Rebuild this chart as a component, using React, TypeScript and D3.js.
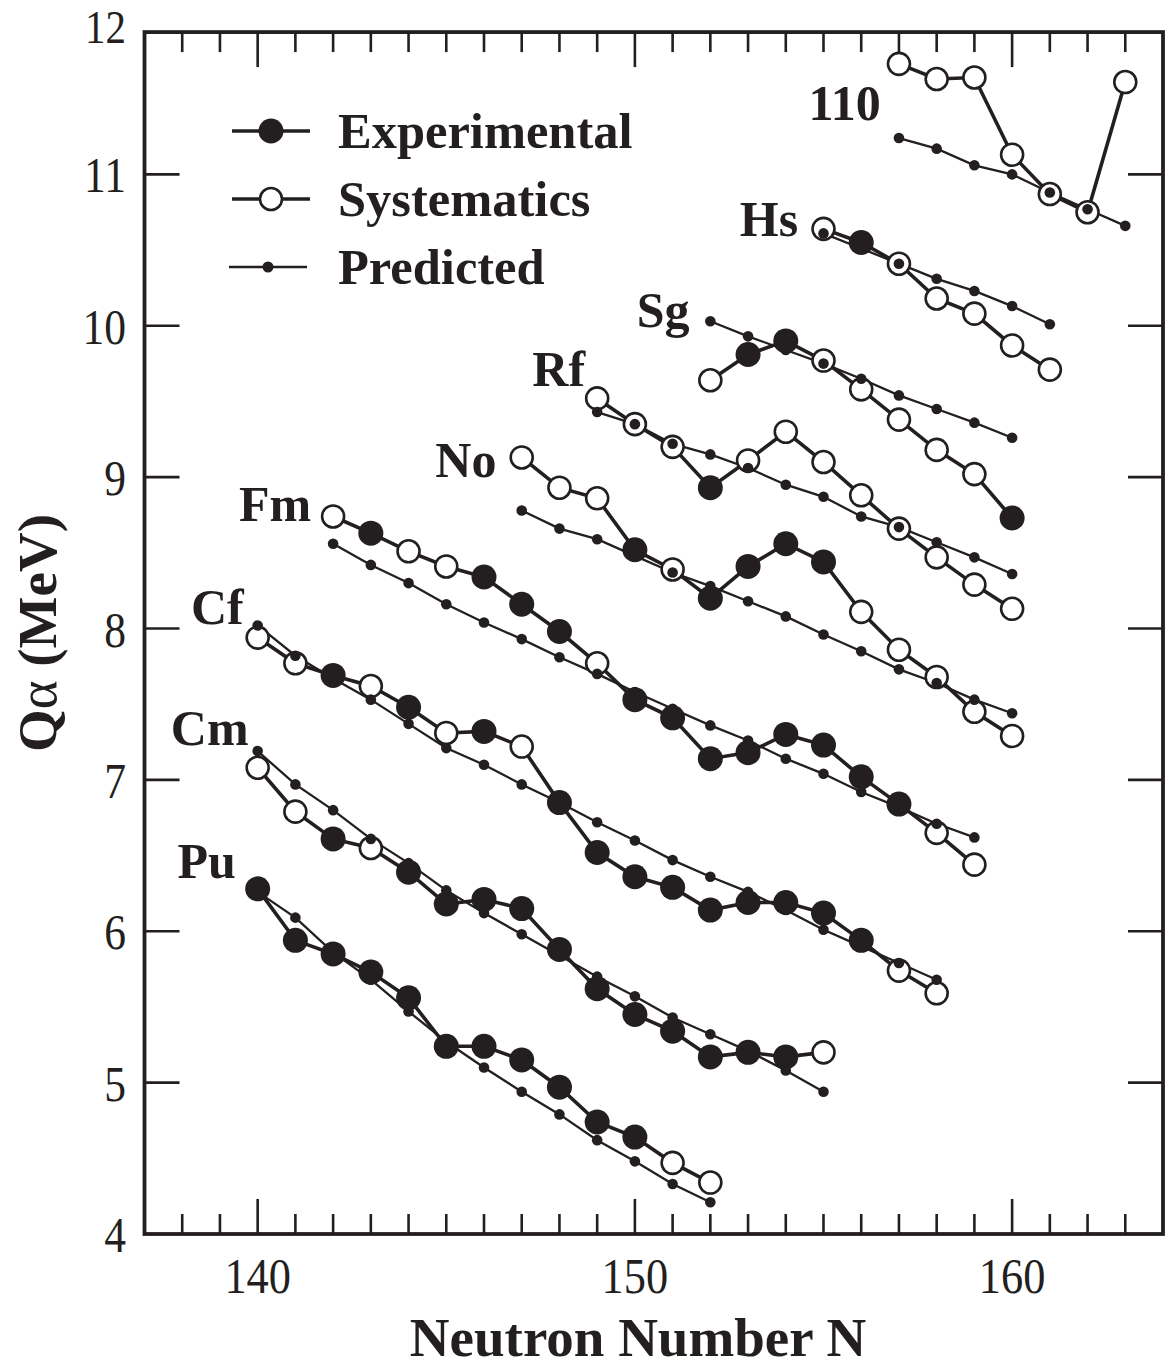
import React from "react";
import * as d3 from "d3";

// Q-alpha values (MeV) per element.
// kind: e = experimental (filled), s = systematics (open)
const PU_START = 140;
const PU_Q = [6.28, 5.94, 5.85, 5.73, 5.56, 5.24, 5.24, 5.15, 4.97, 4.74, 4.64, 4.47, 4.34];
const PU_KIND = "eeeeeeeeeeess";
const PU_PRED = [6.26, 6.09, 5.86, 5.68, 5.47, 5.27, 5.1, 4.94, 4.79, 4.62, 4.48, 4.33, 4.21];

const CM_START = 140;
const CM_Q = [7.08, 6.79, 6.61, 6.55, 6.39, 6.18, 6.21, 6.15, 5.88, 5.62, 5.45, 5.34, 5.17, 5.2, 5.17, 5.2];
const CM_KIND = "sseseeeeeeeeeees";
const CM_PRED = [7.19, 6.97, 6.8, 6.61, 6.45, 6.27, 6.12, 5.98, 5.84, 5.7, 5.57, 5.43, 5.32, 5.21, 5.08, 4.94];

const CF_START = 140;
const CF_Q = [7.94, 7.77, 7.69, 7.62, 7.48, 7.31, 7.32, 7.22, 6.85, 6.52, 6.36, 6.29, 6.14, 6.19, 6.19, 6.12, 5.94, 5.74, 5.59];
const CF_KIND = "sseseseseeeeeeeeess";
const CF_PRED = [8.02, 7.82, 7.67, 7.53, 7.37, 7.21, 7.1, 6.97, 6.85, 6.72, 6.6, 6.47, 6.36, 6.26, 6.14, 6.01, 5.9, 5.79, 5.68];

const FM_START = 142;
const FM_Q = [8.74, 8.63, 8.51, 8.41, 8.34, 8.16, 7.98, 7.77, 7.53, 7.41, 7.14, 7.18, 7.3, 7.23, 7.02, 6.84, 6.65, 6.44];
const FM_KIND = "sesseeeseeeeeeeess";
const FM_PRED = [8.56, 8.42, 8.3, 8.16, 8.04, 7.93, 7.81, 7.7, 7.58, 7.47, 7.36, 7.26, 7.14, 7.04, 6.92, 6.82, 6.71, 6.62];

const NO_START = 147;
const NO_Q = [9.13, 8.93, 8.86, 8.52, 8.39, 8.2, 8.41, 8.56, 8.44, 8.11, 7.86, 7.68, 7.45, 7.29];
const NO_KIND = "ssseseeeesssss";
const NO_PRED = [8.78, 8.66, 8.59, 8.48, 8.37, 8.28, 8.18, 8.08, 7.96, 7.85, 7.73, 7.64, 7.53, 7.44];

const RF_START = 149;
const RF_Q = [9.52, 9.35, 9.2, 8.93, 9.11, 9.3, 9.1, 8.88, 8.66, 8.47, 8.29, 8.13];
const RF_KIND = "sssessssssss";
const RF_PRED = [9.43, 9.35, 9.22, 9.15, 9.06, 8.95, 8.87, 8.74, 8.67, 8.57, 8.47, 8.36];

const SG_START = 152;
const SG_Q = [9.64, 9.81, 9.9, 9.77, 9.58, 9.38, 9.18, 9.02, 8.73];
const SG_KIND = "seessssse";
const SG_PRED = [10.03, 9.93, 9.84, 9.75, 9.65, 9.54, 9.45, 9.36, 9.26];

const HS_START = 155;
const HS_Q = [10.64, 10.55, 10.41, 10.18, 10.08, 9.87, 9.71];
const HS_KIND = "sesssss";
const HS_PRED = [10.61, 10.51, 10.41, 10.31, 10.23, 10.13, 10.01];

const DS_START = 157;
const DS_Q = [11.73, 11.63, 11.64, 11.13, 10.87, 10.75, 11.61];
const DS_KIND = "sssssss";
const DS_PRED = [11.24, 11.17, 11.06, 11.0, 10.88, 10.77, 10.66];

// where each element name sits (N, Q of the text's right end / baseline)
const ELEMENTS = [
  { name: "Pu", start: PU_START, q: PU_Q, kind: PU_KIND, pred: PU_PRED, label: [139.42, 6.35] },
  { name: "Cm", start: CM_START, q: CM_Q, kind: CM_KIND, pred: CM_PRED, label: [139.76, 7.23] },
  { name: "Cf", start: CF_START, q: CF_Q, kind: CF_KIND, pred: CF_PRED, label: [139.63, 8.03] },
  { name: "Fm", start: FM_START, q: FM_Q, kind: FM_KIND, pred: FM_PRED, label: [141.42, 8.71] },
  { name: "No", start: NO_START, q: NO_Q, kind: NO_KIND, pred: NO_PRED, label: [146.33, 9.0] },
  { name: "Rf", start: RF_START, q: RF_Q, kind: RF_KIND, pred: RF_PRED, label: [148.68, 9.6] },
  { name: "Sg", start: SG_START, q: SG_Q, kind: SG_KIND, pred: SG_PRED, label: [151.45, 9.99] },
  { name: "Hs", start: HS_START, q: HS_Q, kind: HS_KIND, pred: HS_PRED, label: [154.33, 10.59] },
  { name: "110", start: DS_START, q: DS_Q, kind: DS_KIND, pred: DS_PRED, label: [156.52, 11.36] },
];

const X_TICKS = [140, 150, 160];
const Y_TICKS = [4, 5, 6, 7, 8, 9, 10, 11, 12];
const LEGEND = ["Experimental", "Systematics", "Predicted"];

const FONT = "'Liberation Serif', 'Times New Roman', serif";
const INK = "#231f20";

export default function App() {
  const width = 1167;
  const height = 1367;
  const x = d3.scaleLinear().domain([137, 164]).range([144.5, 1163]);
  const y = d3.scaleLinear().domain([4, 12]).range([1234, 23]);
  const left = x(137), right = x(164), bottom = y(4), top = y(11.94);

  const line = d3.line<[number, number]>().x((d) => x(d[0])).y((d) => y(d[1]));

  const minorN = d3.range(138, 164);

  const series = ELEMENTS.map((el) => ({
    ...el,
    pts: el.q.map((v, i) => [el.start + i, v] as [number, number]),
    predPts: el.pred.map((v, i) => [el.start + i, v] as [number, number]),
  }));

  return (
    <svg width={width} height={height} style={{ position: "absolute", left: 0, top: 0, background: "#fff" }} fontFamily={FONT}>
      {/* predicted lines underneath */}
      {series.map((s) => (
        <path key={"pl" + s.name} d={line(s.predPts) || ""} fill="none" stroke={INK} strokeWidth={2.3} />
      ))}
      {/* experimental / systematics */}
      {series.map((s) => (
        <g key={"es" + s.name}>
          <path d={line(s.pts) || ""} fill="none" stroke={INK} strokeWidth={3.6} />
          {s.pts.map((p, i) =>
            s.kind[i] === "e" ? (
              <circle key={i} cx={x(p[0])} cy={y(p[1])} r={12.5} fill={INK} />
            ) : (
              <circle key={i} cx={x(p[0])} cy={y(p[1])} r={11} fill="#fff" stroke={INK} strokeWidth={2.6} />
            )
          )}
        </g>
      ))}
      {/* predicted dots on top */}
      {series.map((s) => (
        <g key={"pd" + s.name}>
          {s.predPts.map((p, i) => (
            <circle key={i} cx={x(p[0])} cy={y(p[1])} r={5.3} fill={INK} />
          ))}
        </g>
      ))}
      {/* element labels */}
      {series.map((s) => (
        <text key={"lb" + s.name} x={x(s.label[0])} y={y(s.label[1])} textAnchor="end" fontSize={50} fontWeight="bold" fill={INK}>
          {s.name}
        </text>
      ))}

      {/* legend */}
      {LEGEND.map((t, i) => {
        const ly = 131 + i * 68;
        return (
          <g key={t}>
            <line x1={i === 2 ? 229 : 232} x2={i === 2 ? 307 : 310} y1={ly} y2={ly} stroke={INK} strokeWidth={i === 2 ? 2.3 : 3.6} />
            {i === 0 && <circle cx={271} cy={ly} r={12.5} fill={INK} />}
            {i === 1 && <circle cx={271} cy={ly} r={11} fill="#fff" stroke={INK} strokeWidth={2.6} />}
            {i === 2 && <circle cx={268} cy={ly} r={5.5} fill={INK} />}
            <text x={338} y={ly + 17} fontSize={50.5} fontWeight="bold" fill={INK}>
              {t}
            </text>
          </g>
        );
      })}

      {/* frame and ticks */}
      <rect x={left} y={top} width={right - left} height={bottom - top} fill="none" stroke={INK} strokeWidth={3.8} />
      {minorN.map((n) => {
        const len = n % 10 === 0 ? 35 : 20;
        return (
          <g key={"xt" + n}>
            <line x1={x(n)} x2={x(n)} y1={bottom} y2={bottom - len} stroke={INK} strokeWidth={2.6} />
            <line x1={x(n)} x2={x(n)} y1={top} y2={top + len} stroke={INK} strokeWidth={2.6} />
          </g>
        );
      })}
      {Y_TICKS.filter((v) => v > 4 && v < 12).map((v) => (
        <g key={"yt" + v}>
          <line x1={left} x2={left + 35} y1={y(v)} y2={y(v)} stroke={INK} strokeWidth={2.6} />
          <line x1={right} x2={right - 35} y1={y(v)} y2={y(v)} stroke={INK} strokeWidth={2.6} />
        </g>
      ))}
      {Y_TICKS.map((v) => (
        <text
          key={"yl" + v}
          transform={`translate(126, ${v === 12 ? y(v) + 4 : y(v) + 1}) scale(0.87, 1)`}
          dy="0.34em"
          textAnchor="end"
          fontSize={v === 12 ? 47 : 50}
          fill={INK}
        >
          {v}
        </text>
      ))}
      {X_TICKS.map((v) => (
        <text key={"xl" + v} transform={`translate(${x(v)}, 1293) scale(0.87, 1)`} textAnchor="middle" fontSize={51} fill={INK}>
          {v}
        </text>
      ))}

      {/* axis titles */}
      <text x={638} y={1356} textAnchor="middle" fontSize={55} fontWeight="bold" fill={INK}>
        Neutron Number N
      </text>
      <text transform={`translate(56, ${(top + bottom) / 2}) rotate(-90)`} textAnchor="middle" fontSize={55} fontWeight="bold" fill={INK}>
        Q<tspan fontWeight="normal">α</tspan> (MeV)
      </text>
    </svg>
  );
}
